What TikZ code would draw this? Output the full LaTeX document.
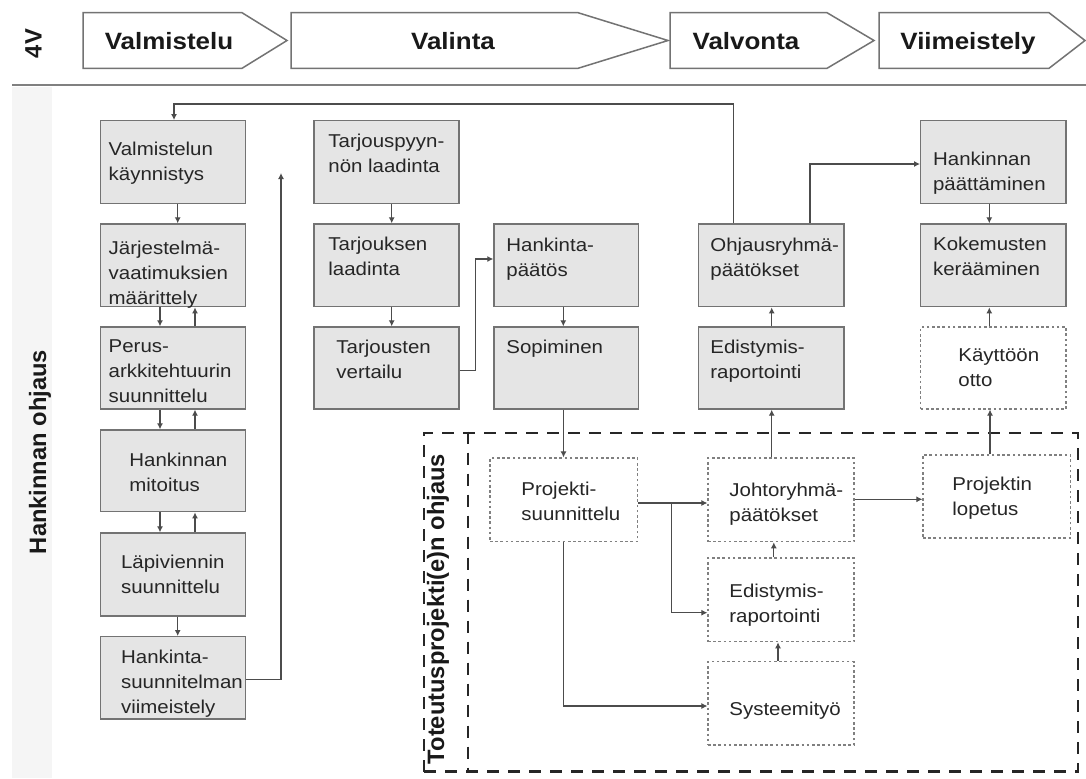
\documentclass[tikz,border=0pt]{standalone}
\usepackage{fontspec}
\setmainfont{Liberation Sans}
\newfontfamily\bxf{Liberation Sans}[FakeStretch=1.1]
\usetikzlibrary{arrows.meta,fit}
\begin{document}
\begin{tikzpicture}[x=0.5pt,y=-0.5pt,
  gbox/.style={draw=black!55, fill=black!10, line width=0.7pt, rectangle, inner sep=0pt},
  dbox/.style={draw=black!50, dash pattern=on 1.3pt off 1.3pt, line width=0.6pt, fill=white, rectangle, inner sep=0pt},
  bigdash/.style={draw=black!85, dash pattern=on 6pt off 4.5pt, line width=1.3pt, rectangle, inner sep=0pt},
  lbl/.style={anchor=base west, inner sep=0pt, align=left, font=\bxf\fontsize{9.3}{12.5}\selectfont, text=black!85},
  hdr/.style={draw=black!55, fill=white, line width=0.75pt},
  htxt/.style={anchor=base, inner sep=0pt, font=\bxf\bfseries\fontsize{11.8}{14}\selectfont, text=black!90},
  vtxt/.style={rotate=90, inner sep=0pt, font=\bfseries\fontsize{11.85}{14}\selectfont, text=black!90},
  arr/.style={draw=black!70, line width=0.55pt, -{Latex[length=3pt,width=3pt]}}
]
\useasboundingbox (0,0) rectangle (1086,778);
\fill[white] (0,0) rectangle (1086,778);
% left band and separator
\fill[black!4] (12,87) rectangle (52,778);
\draw[line width=1.2pt, black!50] (12,85) -- (1086,85);
% header
\node[vtxt] (v4) at (33.5,43.5) {4V};
\draw[hdr] (83,12.7) -- (242,12.7) -- (287,40.5) -- (242,68.3) -- (83,68.3) -- cycle;
\draw[hdr] (291,12.7) -- (578,12.7) -- (668,40.5) -- (578,68.3) -- (291,68.3) -- cycle;
\draw[hdr] (670,12.7) -- (827,12.7) -- (874,40.5) -- (827,68.3) -- (670,68.3) -- cycle;
\draw[hdr] (879,12.7) -- (1049,12.7) -- (1085,40.5) -- (1049,68.3) -- (879,68.3) -- cycle;
\node[htxt] (h1) at (169,49) {Valmistelu};
\node[htxt] (h2) at (453,49) {Valinta};
\node[htxt] (h3) at (746,49) {Valvonta};
\node[htxt] (h4) at (968,49) {Viimeistely};
% side labels
\node[vtxt] (hoh) at (40,452) {Hankinnan ohjaus};
\node[bigdash, fit={(424,433)(1078,771.7)}] (proj) {};
\draw[bigdash] (468,0 |- proj.north) -- (468,0 |- proj.south);
\node[vtxt] (toh) at (438,609) {Toteutusprojekti(e)n ohjaus};
% column 1
\node[gbox, fit={(100.7,120.7)(245.7,203.3)}] (vk) {};
\node[gbox, fit={(100.7,224)(245.7,306.7)}] (jv) {};
\node[gbox, fit={(100.7,327)(245.7,409)}] (pa) {};
\node[gbox, fit={(100.7,430)(245.7,511.7)}] (hm) {};
\node[gbox, fit={(100.7,533)(245.7,616)}] (lv) {};
\node[gbox, fit={(100.7,636.7)(245.7,719)}] (hs) {};
% column 2
\node[gbox, fit={(314,120.7)(459,203.3)}] (tp) {};
\node[gbox, fit={(314,224)(459,306.7)}] (tl) {};
\node[gbox, fit={(314,327)(459,409)}] (tv) {};
% column 3
\node[gbox, fit={(494,224)(638.3,306.7)}] (hp) {};
\node[gbox, fit={(494,327)(638.3,409)}] (sop) {};
% column 4
\node[gbox, fit={(698.3,224)(844,306.7)}] (org) {};
\node[gbox, fit={(698.3,327)(844,409)}] (egr) {};
% column 5
\node[gbox, fit={(920.7,120.7)(1066,203.3)}] (hpa) {};
\node[gbox, fit={(920.7,224)(1066,306.7)}] (kk) {};
\node[dbox, fit={(920.7,327)(1066,409)}] (ko) {};
% project boxes
\node[dbox, fit={(490,458)(637.5,541.7)}] (ps) {};
\node[dbox, fit={(708,458)(854,541.7)}] (jp) {};
\node[dbox, fit={(923,455)(1070.6,538)}] (pl) {};
\node[dbox, fit={(708,558)(854,641.7)}] (ed) {};
\node[dbox, fit={(708,661.7)(854,745)}] (st) {};
% texts (anchored at the baseline of the last line)
\node[lbl] (t-vk) at (108.3,180) {Valmistelun\\käynnistys};
\node[lbl] (t-jv) at (108.3,304) {Järjestelmä-\\vaatimuksien\\määrittely};
\node[lbl] (t-pa) at (108.3,402) {Perus-\\arkkitehtuurin\\suunnittelu};
\node[lbl] (t-hm) at (129,491) {Hankinnan\\mitoitus};
\node[lbl] (t-lv) at (120.7,593) {Läpiviennin\\suunnittelu};
\node[lbl] (t-hs) at (120.7,713) {Hankinta-\\suunnitelman\\viimeistely};
\node[lbl] (t-tp) at (328,172) {Tarjouspyyn-\\nön laadinta};
\node[lbl] (t-tl) at (328,275) {Tarjouksen\\laadinta};
\node[lbl] (t-tv) at (336,378) {Tarjousten\\vertailu};
\node[lbl] (t-hp) at (506,276.7) {Hankinta-\\päätös};
\node[lbl] (t-sop) at (506,353) {Sopiminen};
\node[lbl] (t-org) at (710,276.7) {Ohjausryhmä-\\päätökset};
\node[lbl] (t-egr) at (710,378) {Edistymis-\\raportointi};
\node[lbl] (t-hpa) at (932.7,190) {Hankinnan\\päättäminen};
\node[lbl] (t-kk) at (932.7,275) {Kokemusten\\kerääminen};
\node[lbl] (t-ko) at (958,386.7) {Käyttöön\\otto};
\node[lbl] (t-ps) at (521,520) {Projekti-\\suunnittelu};
\node[lbl] (t-jp) at (729,521) {Johtoryhmä-\\päätökset};
\node[lbl] (t-pl) at (952,515) {Projektin\\lopetus};
\node[lbl] (t-ed) at (729,622) {Edistymis-\\raportointi};
\node[lbl] (t-st) at (729,715) {Systeemityö};
% connectors
\coordinate (upend) at (281,173);
\draw[arr] (733.3,0 |- org.north) |- (174,104) -- (174,0 |- vk.north);
\draw[arr] (177.7,0 |- vk.south) -- (177.7,0 |- jv.north);
\draw[arr] (160,0 |- jv.south) -- (160,0 |- pa.north);
\draw[arr] (195,0 |- pa.north) -- (195,0 |- jv.south);
\draw[arr] (160,0 |- pa.south) -- (160,0 |- hm.north);
\draw[arr] (195,0 |- hm.north) -- (195,0 |- pa.south);
\draw[arr] (160,0 |- hm.south) -- (160,0 |- lv.north);
\draw[arr] (195,0 |- lv.north) -- (195,0 |- hm.south);
\draw[arr] (177.7,0 |- lv.south) -- (177.7,0 |- hs.north);
\draw[arr] (hs.east |- 0,679.3) -| (upend);
\draw[arr] (391.7,0 |- tp.south) -- (391.7,0 |- tl.north);
\draw[arr] (391.7,0 |- tl.south) -- (391.7,0 |- tv.north);
\draw[arr] (tv.east |- 0,370.7) -- (475.7,370.7) |- (hp.west |- 0,259);
\draw[arr] (563.3,0 |- hp.south) -- (563.3,0 |- sop.north);
\draw[arr] (563.5,0 |- sop.south) -- (563.5,0 |- ps.north);
\draw[arr] (ps.east |- 0,503) -- (jp.west |- 0,503);
\draw[arr] (ps.east |- 0,503) -- (671.8,503) |- (ed.west |- 0,612.7);
\draw[arr] (563.5,0 |- ps.south) |- (st.west |- 0,706);
\draw[arr] (778,0 |- st.north) -- (778,0 |- ed.south);
\draw[arr] (773.8,0 |- ed.north) -- (773.8,0 |- jp.south);
\draw[arr] (771.7,0 |- jp.north) -- (771.7,0 |- egr.south);
\draw[arr] (771.7,0 |- egr.north) -- (771.7,0 |- org.south);
\draw[arr] (810,0 |- org.north) |- (hpa.west |- 0,164);
\draw[arr] (989.3,0 |- hpa.south) -- (989.3,0 |- kk.north);
\draw[arr] (989.3,0 |- ko.north) -- (989.3,0 |- kk.south);
\draw[arr] (990,0 |- pl.north) -- (990,0 |- ko.south);
\draw[arr] (jp.east |- 0,499.3) -- (pl.west |- 0,499.3);
\end{tikzpicture}
\end{document}
